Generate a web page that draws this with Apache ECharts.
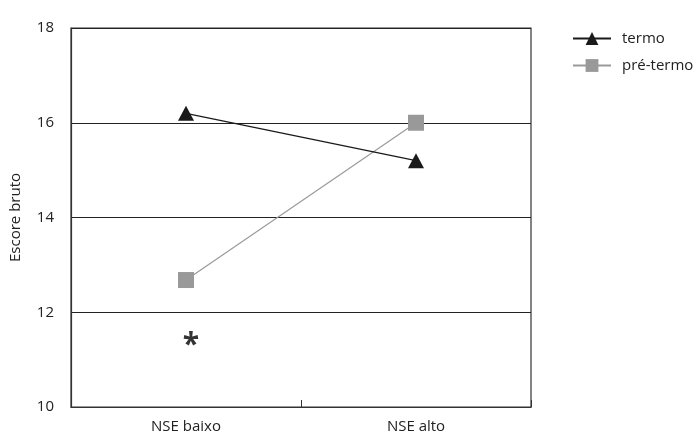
<!DOCTYPE html>
<html>
<head>
<meta charset="utf-8">
<script src="https://cdn.jsdelivr.net/npm/echarts@6/dist/echarts.min.js"></script>
<style>
  html, body { margin: 0; padding: 0; background: #fff; }
  #chart { width: 697px; height: 437px; }
</style>
</head>
<body>
<div id="chart"></div>
<script>
  // categorias e valores
  var categorias = ['NSE baixo', 'NSE alto'];
  var termo = [16.2, 15.2];
  var preTermo = [12.68, 16.0];
  // marca de significância (*) sobre NSE baixo
  var asterisco = [[0, 11.45]];

  var chart = echarts.init(document.getElementById('chart'));
  var fonte = '"Open Sans", "Noto Sans", sans-serif';

  var option = {
    animation: false,
    backgroundColor: '#fff',
    textStyle: { fontFamily: fonte },
    grid: {
      left: 70,
      right: 166,
      top: 28,
      bottom: 30,
      show: true,
      borderColor: '#333',
      borderWidth: 1.2
    },
    legend: {
      data: ['termo', 'pré-termo'],
      orient: 'vertical',
      left: 567,
      top: 26,
      itemWidth: 38,
      itemHeight: 16,
      itemGap: 12,
      textStyle: { fontSize: 15, color: '#222', fontFamily: fonte, padding: [0, 0, 0, 6] }
    },
    xAxis: {
      type: 'category',
      data: categorias,
      boundaryGap: true,
      axisLine: { lineStyle: { color: '#333', width: 1.2 } },
      axisTick: { show: true, inside: true, length: 7, lineStyle: { color: '#333' } },
      axisLabel: { color: '#222', fontSize: 15, margin: 12, fontFamily: fonte }
    },
    yAxis: {
      type: 'value',
      min: 10,
      max: 18,
      interval: 2,
      name: 'Escore bruto',
      nameLocation: 'middle',
      nameGap: 48,
      nameTextStyle: { color: '#222', fontSize: 15, fontFamily: fonte },
      axisLine: { show: true, lineStyle: { color: '#333', width: 1.2 } },
      axisTick: { show: false },
      axisLabel: { color: '#222', fontSize: 15, margin: 17, fontFamily: fonte },
      splitLine: { show: true, lineStyle: { color: '#222', width: 1.2 } }
    },
    series: [
      {
        name: 'termo',
        type: 'line',
        data: termo,
        symbol: 'triangle',
        symbolSize: [16, 15],
        lineStyle: { color: '#1a1a1a', width: 1.3 },
        itemStyle: { color: '#1a1a1a' },
        z: 3
      },
      {
        name: 'pré-termo',
        type: 'line',
        data: preTermo,
        symbol: 'rect',
        symbolSize: 16,
        lineStyle: { color: '#9a9a9a', width: 1.2 },
        itemStyle: { color: '#999' },
        z: 2
      },
      {
        name: 'sig',
        type: 'scatter',
        data: asterisco,
        symbolSize: 0,
        label: {
          show: true,
          formatter: '*',
          position: 'inside',
          offset: [5, 7],
          fontSize: 30,
          fontWeight: 'bold',
          color: '#000',
          fontFamily: fonte
        },
        silent: true
      }
    ]
  };

  chart.setOption(option);
</script>
</body>
</html>
